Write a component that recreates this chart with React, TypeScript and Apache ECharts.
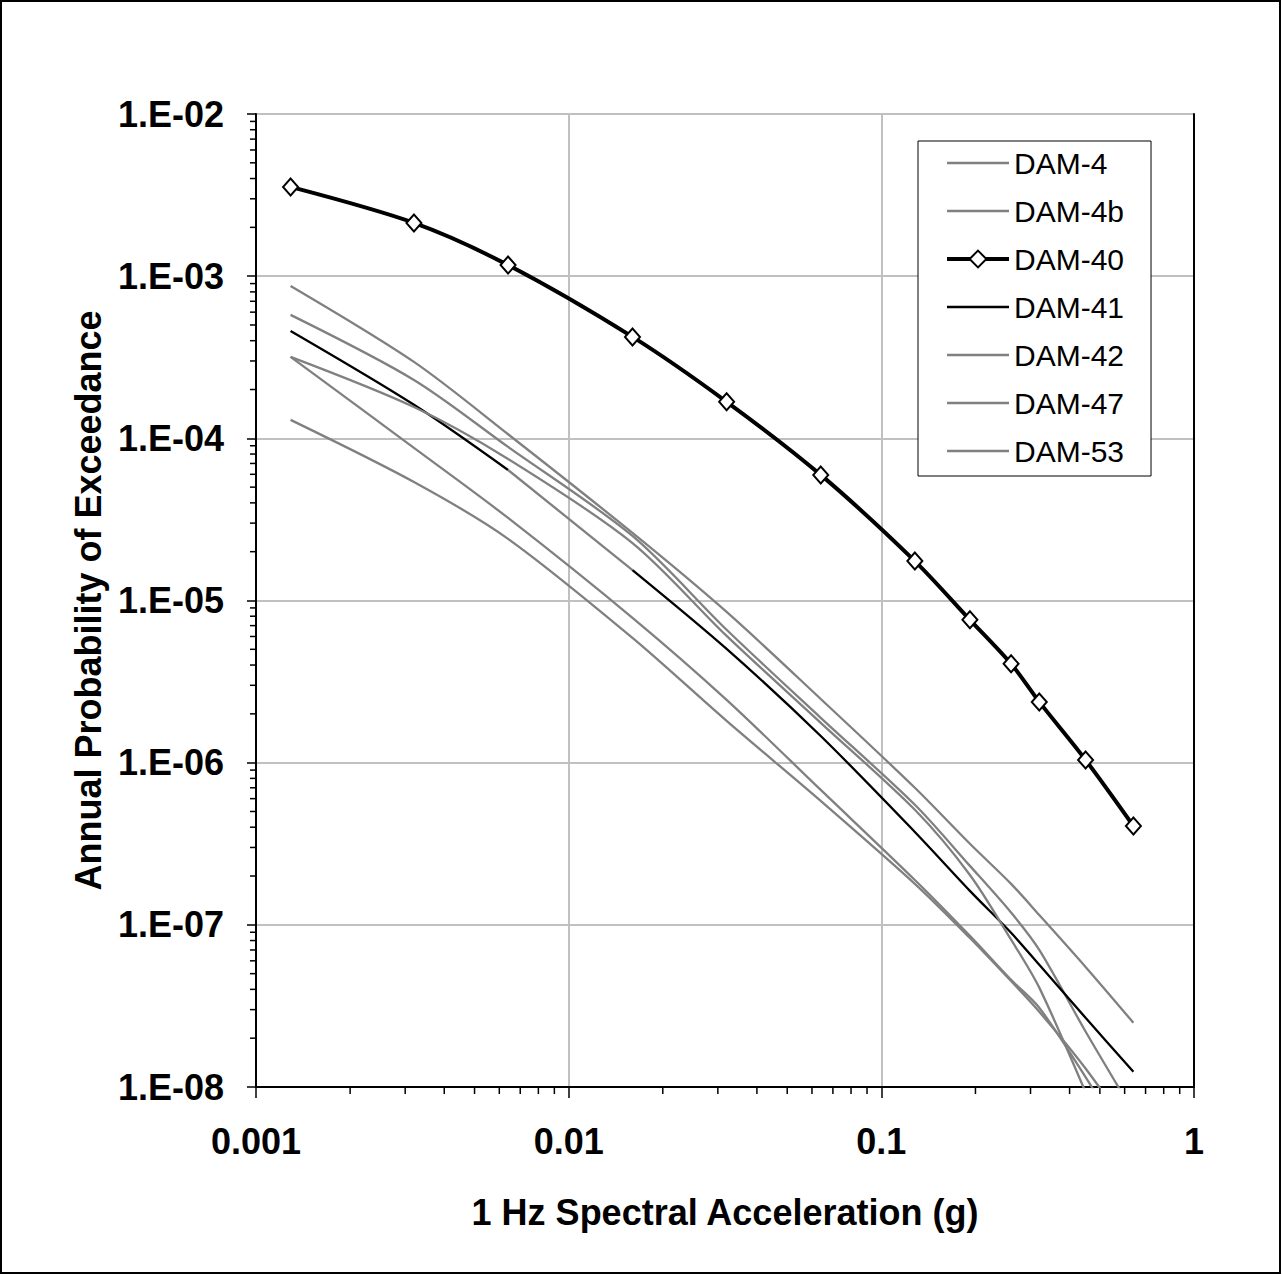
import React, { useEffect, useRef } from "react";
import * as echarts from "echarts";

const X_VALUES = [0.00129, 0.0032, 0.0064, 0.016, 0.032, 0.064, 0.128, 0.192, 0.26, 0.32, 0.45, 0.64];
const DAM_4 = [8.7e-4, 2.96e-4, 1.06e-4, 2.61e-5, 8.5e-6, 2.47e-6, 7.0e-7, 3.16e-7, 1.79e-7, 1.15e-7, 5.5e-8, 2.49e-8];
const DAM_4B = [5.77e-4, 2.29e-4, 8.85e-5, 2.5e-5, 6.6e-6, 1.89e-6, 5.5e-7, 2.31e-7, 1.19e-7, 7.0e-8, 2.2e-8, 7.0e-9];
const DAM_40 = [3.55e-3, 2.13e-3, 1.17e-3, 4.22e-4, 1.68e-4, 5.95e-5, 1.75e-5, 7.6e-6, 4.07e-6, 2.37e-6, 1.04e-6, 4.07e-7];
const DAM_41 = [4.59e-4, 1.61e-4, 6.38e-5, 1.54e-5, 5.03e-6, 1.46e-6, 3.74e-7, 1.62e-7, 8.93e-8, 5.67e-8, 2.67e-8, 1.24e-8];
const DAM_42 = [3.18e-4, 1.56e-4, 7.46e-5, 2.26e-5, 6.05e-6, 1.76e-6, 5.12e-7, 2.03e-7, 8.1e-8, 4.1e-8, 9.3e-9, 1.9e-9];
const DAM_47 = [3.18e-4, 8.73e-5, 3.23e-5, 7.82e-6, 2.44e-6, 6.79e-7, 1.89e-7, 8.55e-8, 4.58e-8, 3.08e-8, 1.15e-8, 3.8e-9];
const DAM_53 = [1.3e-4, 5.38e-5, 2.4e-5, 5.88e-6, 1.81e-6, 5.81e-7, 1.79e-7, 8.3e-8, 4.5e-8, 2.91e-8, 1.3e-8, 5.0e-9];

const LEGEND_NAMES = ["DAM-4", "DAM-4b", "DAM-40", "DAM-41", "DAM-42", "DAM-47", "DAM-53"];
const X_DECADES = [-3, -2, -1];
const Y_DECADES = [-8, -7, -6, -5, -4, -3];
const MINOR_STEPS = [2, 3, 4, 5, 6, 7, 8, 9];

const X_MIN = 0.001;
const X_MAX = 1;
const Y_MIN = 1e-8;
const Y_MAX = 1e-2;

const GRAY = "#808080";
const FONT = "'Liberation Sans', Arial, sans-serif";

function pairs(xs: number[], ys: number[], from = 0, to = xs.length) {
  const out: number[][] = [];
  for (let i = from; i < to; i++) out.push([xs[i], ys[i]]);
  return out;
}

export default function App() {
  const ref = useRef<HTMLDivElement>(null);

  useEffect(() => {
    document.body.style.margin = "0";
    const chart = echarts.init(ref.current!, undefined, { renderer: "svg" });

    const xMinor: number[][] = [];
    X_DECADES.forEach((e) => MINOR_STEPS.forEach((k) => xMinor.push([k * Math.pow(10, e), Y_MIN])));
    const yMinor: number[][] = [];
    Y_DECADES.forEach((e) => MINOR_STEPS.forEach((k) => yMinor.push([X_MIN, k * Math.pow(10, e)])));

    const SMOOTH = 0.3;

    const grayLine = (name: string, ys: number[]) => ({
      name,
      type: "line",
      data: pairs(X_VALUES, ys),
      smooth: SMOOTH,
      showSymbol: false,
      symbol: "none",
      lineStyle: { color: GRAY, width: 2.3 },
      itemStyle: { color: GRAY },
      clip: true,
    });

    const legendData = LEGEND_NAMES.map((n) =>
      n === "DAM-40"
        ? { name: n, lineStyle: { width: 4 } }
        : {
            name: n,
            lineStyle: { width: 2.3 },
            itemStyle: { color: "rgba(0,0,0,0)", borderColor: "rgba(0,0,0,0)", borderWidth: 0, opacity: 0 },
          }
    );

    const option: any = {
      animation: false,
      backgroundColor: "#ffffff",
      grid: { left: 256, top: 114, right: 88, bottom: 188, containLabel: false },
      graphic: [
        {
          type: "rect",
          shape: { x: 1, y: 1, width: 1279, height: 1272 },
          style: { fill: "none", stroke: "#000", lineWidth: 2 },
          silent: true,
        },
      ],
      legend: {
        data: legendData,
        orient: "vertical",
        left: 918,
        top: 141,
        padding: [4, 27, 7, 27],
        itemWidth: 62,
        itemHeight: 21,
        itemGap: 12,
        borderColor: "#000",
        borderWidth: 1,
        backgroundColor: "#fff",
        textStyle: { fontFamily: FONT, fontSize: 30, color: "#000", lineHeight: 36 },
      },
      xAxis: {
        type: "log",
        logBase: 10,
        min: X_MIN,
        max: X_MAX,
        name: "1 Hz Spectral Acceleration (g)",
        nameLocation: "middle",
        nameGap: 107,
        nameTextStyle: { fontFamily: FONT, fontSize: 36, fontWeight: "bold", color: "#000" },
        axisLine: { show: true, lineStyle: { color: "#000", width: 2 } },
        axisTick: { show: true, inside: false, length: 11, lineStyle: { color: "#000", width: 1.5 } },
        axisLabel: {
          margin: 36,
          fontFamily: FONT,
          fontSize: 36,
          fontWeight: "bold",
          color: "#000",
          formatter: (v: number) => String(Number(v.toPrecision(3))),
        },
        splitLine: { show: true, lineStyle: { color: "#c0c0c0", width: 2 } },
      },
      yAxis: [
        {
          type: "log",
          logBase: 10,
          min: Y_MIN,
          max: Y_MAX,
          name: "Annual Probability of Exceedance",
          nameLocation: "middle",
          nameGap: 150,
          nameTextStyle: { fontFamily: FONT, fontSize: 36, fontWeight: "bold", color: "#000" },
          axisLine: { show: true, lineStyle: { color: "#000", width: 2 } },
          axisTick: { show: true, inside: false, length: 9, lineStyle: { color: "#000", width: 1.5 } },
          axisLabel: {
            margin: 32,
            fontFamily: FONT,
            fontSize: 36,
            fontWeight: "bold",
            color: "#000",
            formatter: (v: number) => {
              const e = Math.round(Math.log10(v));
              const s = String(Math.abs(e)).padStart(2, "0");
              return "1.E" + (e < 0 ? "-" : "+") + s;
            },
          },
          splitLine: { show: true, lineStyle: { color: "#c0c0c0", width: 2 } },
        },
        {
          type: "log",
          logBase: 10,
          min: Y_MIN,
          max: Y_MAX,
          position: "right",
          axisLine: { show: true, onZero: false, lineStyle: { color: "#000", width: 2 } },
          axisTick: { show: false },
          axisLabel: { show: false },
          splitLine: { show: false },
        },
      ],
      series: [
        grayLine("DAM-4", DAM_4),
        grayLine("DAM-4b", DAM_4B),
        {
          name: "DAM-40",
          type: "line",
          data: pairs(X_VALUES, DAM_40),
          smooth: SMOOTH,
          symbol: "diamond",
          symbolSize: [15, 17],
          showSymbol: true,
          lineStyle: { color: "#000", width: 4 },
          itemStyle: { color: "#fff", borderColor: "#000", borderWidth: 2 },
          z: 5,
        },
        {
          name: "DAM-41",
          type: "line",
          data: pairs(X_VALUES, DAM_41, 0, 3),
          smooth: SMOOTH,
          showSymbol: false,
          symbol: "none",
          lineStyle: { color: "#000", width: 2.3 },
          itemStyle: { color: "#000" },
        },
        {
          name: "DAM-41 segment",
          type: "line",
          data: pairs(X_VALUES, DAM_41, 2, 4),
          showSymbol: false,
          symbol: "none",
          lineStyle: { color: GRAY, width: 2.3 },
          itemStyle: { color: GRAY },
        },
        {
          name: "DAM-41",
          type: "line",
          data: pairs(X_VALUES, DAM_41, 3, X_VALUES.length),
          smooth: SMOOTH,
          showSymbol: false,
          symbol: "none",
          lineStyle: { color: "#000", width: 2.3 },
          itemStyle: { color: "#000" },
        },
        grayLine("DAM-42", DAM_42),
        grayLine("DAM-47", DAM_47),
        grayLine("DAM-53", DAM_53),
        {
          name: "x minor ticks",
          type: "custom",
          silent: true,
          clip: false,
          data: xMinor,
          renderItem: (params: any, api: any) => {
            const p = api.coord([api.value(0), api.value(1)]);
            return {
              type: "line",
              shape: { x1: p[0], y1: p[1], x2: p[0], y2: p[1] + 7 },
              style: { stroke: "#000", lineWidth: 1.5 },
            };
          },
        },
        {
          name: "y minor ticks",
          type: "custom",
          silent: true,
          clip: false,
          data: yMinor,
          renderItem: (params: any, api: any) => {
            const p = api.coord([api.value(0), api.value(1)]);
            return {
              type: "line",
              shape: { x1: p[0] - 6, y1: p[1], x2: p[0], y2: p[1] },
              style: { stroke: "#000", lineWidth: 1.5 },
            };
          },
        },
      ],
    };

    chart.setOption(option);
    return () => chart.dispose();
  }, []);

  return (
    <div
      ref={ref}
      style={{ position: "absolute", left: 0, top: 0, width: 1282, height: 1275 }}
    />
  );
}
